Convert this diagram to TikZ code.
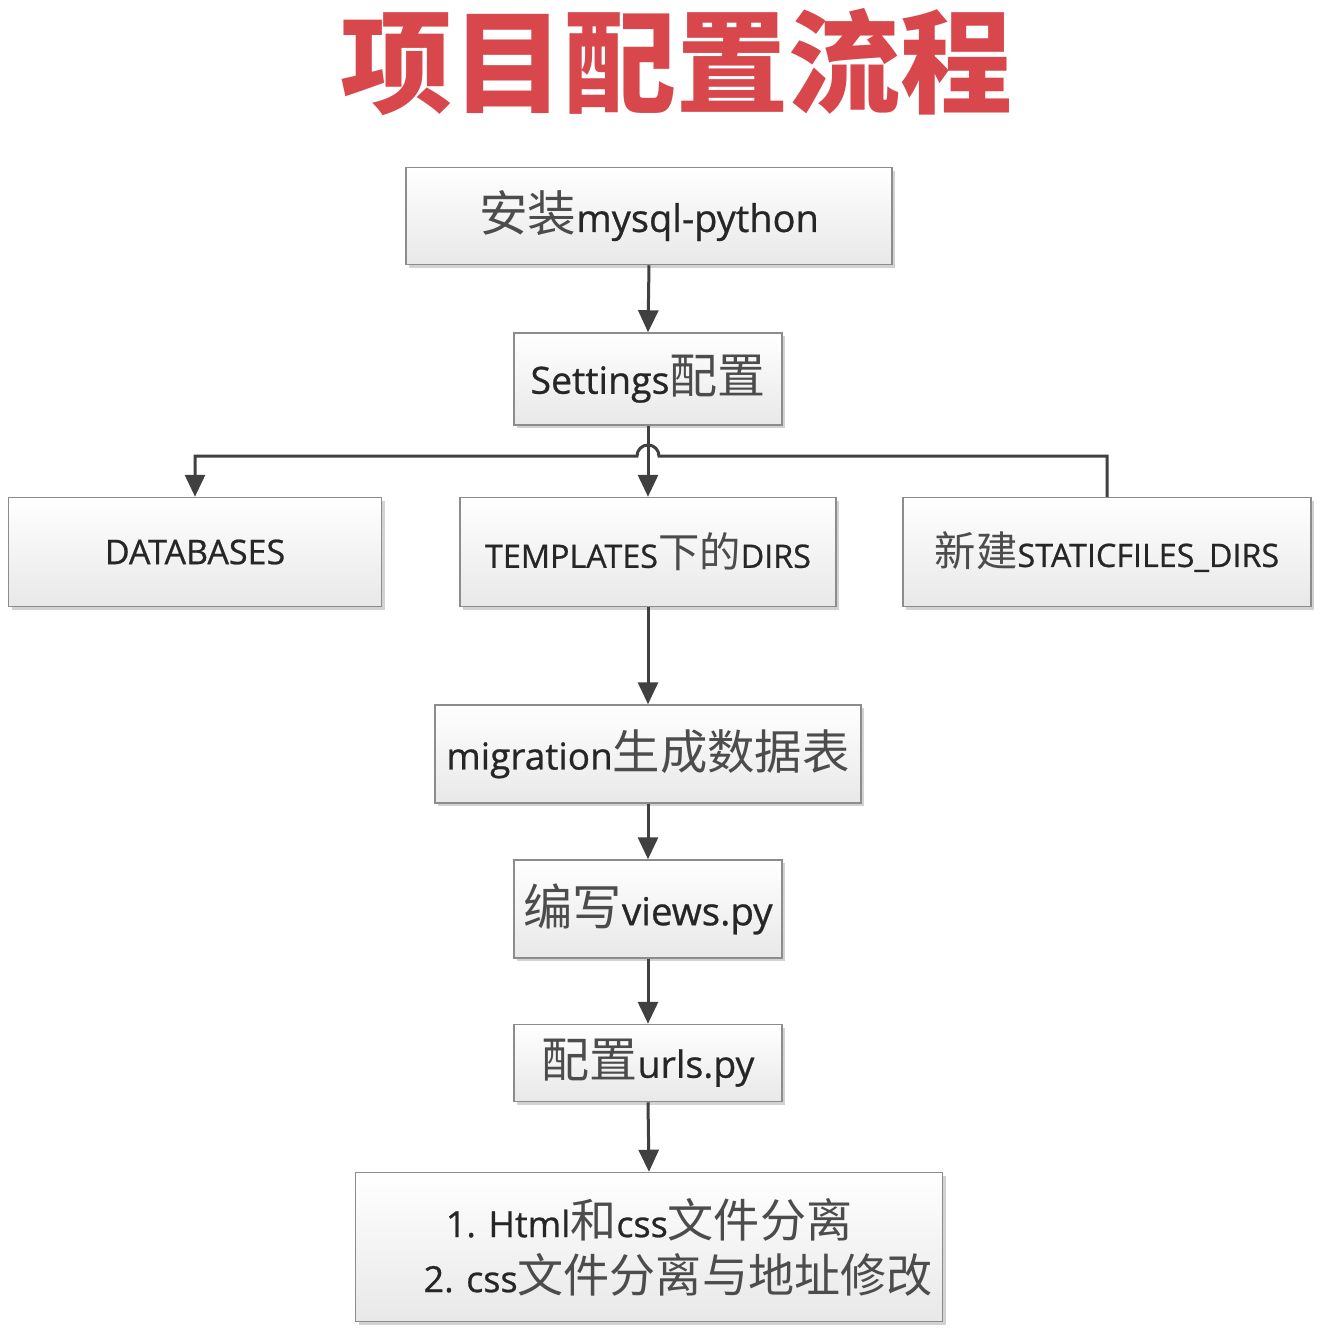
\documentclass[tikz,border=0pt]{standalone}
\usepackage{fontspec}
\setmainfont{Open Sans}[FakeBold=0.7]
\newfontfamily\cjk[Scale=1.28]{Noto Sans CJK SC}
\newfontfamily\cjktitle{Noto Sans CJK SC}
\newcommand{\zh}[1]{{\cjk\color{black!70}#1}}
\usetikzlibrary{arrows.meta,shadows}
\begin{document}
\begin{tikzpicture}[x=1pt,y=-1pt,
  box/.style={draw=black!45, line width=1.5pt, top color=white, bottom color=black!9,
    drop shadow={shadow xshift=3pt, shadow yshift=-3pt, opacity=0.35, fill=black!50},
    inner sep=0pt, text=black!85, font=\fontsize{34}{40}\selectfont},
  fsize/.style={font=\fontsize{#1}{55}\selectfont},
  conn/.style={draw=black!75, line width=3pt},
  arr/.style={conn, -{Triangle[length=22pt,width=20pt]}}]
\fill[white] (0,0) rectangle (1330,1334);
\useasboundingbox (0,0) rectangle (1330,1334);
\node (title) at (676,62) {\cjktitle\bfseries\fontsize{112}{120}\selectfont\color[HTML]{D8474B}项目配置流程};
\node[box, fsize=38, minimum width=486pt, minimum height=97pt] (mysql) at (649,216) {\zh{安装}mysql-python};
\node[box, fsize=37.5, minimum width=268pt, minimum height=92pt] (settings) at (648,379) {Settings\zh{配置}};
\node[box, fsize=34, minimum width=373pt, minimum height=109pt] (db) at (195,552) {DATABASES};
\node[box, fsize=32.3, minimum width=376pt, minimum height=109pt] (tpl) at (648,552) {TEMPLATES\zh{下的}DIRS};
\node[box, fsize=32.3, minimum width=408pt, minimum height=109pt] (static) at (1107,552) {\zh{新建}STATICFILES\_DIRS};
\node[box, fsize=37, minimum width=426pt, minimum height=98pt] (mig) at (648,754) {migration\zh{生成数据表}};
\node[box, fsize=38.5, minimum width=268pt, minimum height=98pt] (views) at (648,909) {\zh{编写}views.py};
\node[box, fsize=37.5, minimum width=268pt, minimum height=77pt] (urls) at (648,1063) {\zh{配置}urls.py};
\node[box, fsize=36, minimum width=587pt, minimum height=149pt, align=center] (final) at (649,1247)
  {1. Html\zh{和}css\zh{文件分离}\\ \hspace*{58pt}2. css\zh{文件分离与地址修改}};
\coordinate (bus) at (1107,456);
\coordinate (hopR) at (659,456);
\coordinate (hopL) at (637,456);
\draw[arr] (mysql.south) -- (settings.north);
\draw[arr] (settings.south) -- (tpl.north);
\draw[arr] (static.north) -- (bus) -- (hopR) arc[start angle=0, end angle=-180, radius=11] -- (hopL -| db.north) -- (db.north);
\draw[arr] (tpl.south) -- (mig.north);
\draw[arr] (mig.south) -- (views.north);
\draw[arr] (views.south) -- (urls.north);
\draw[arr] (urls.south) -- (final.north);
\end{tikzpicture}
\end{document}
